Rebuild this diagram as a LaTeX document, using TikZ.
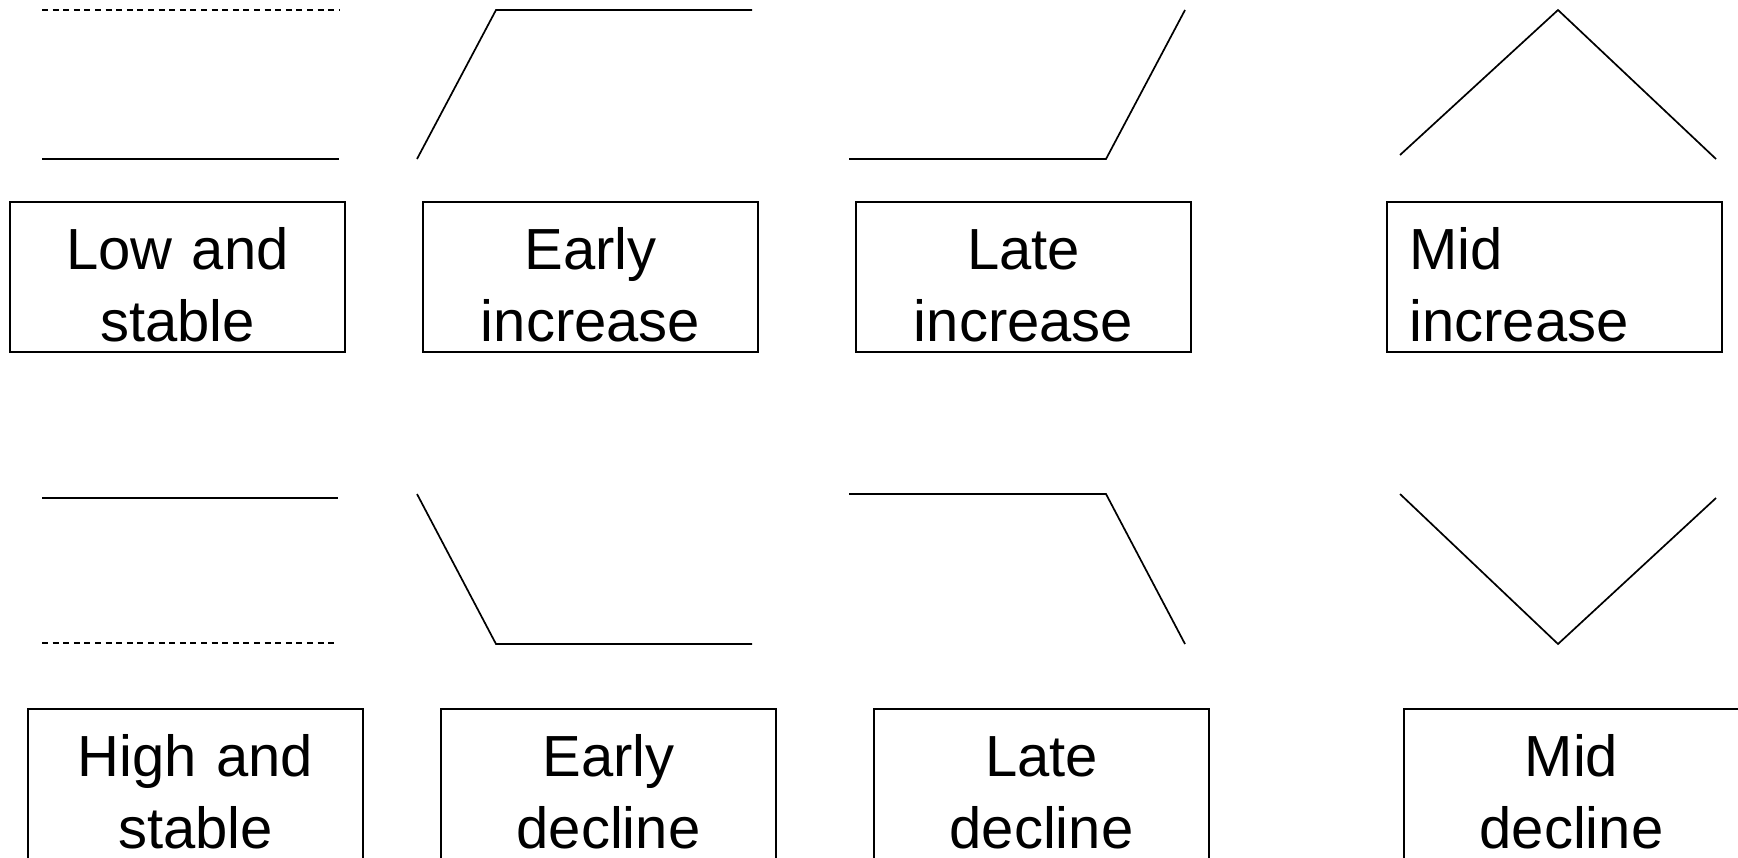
\documentclass[tikz,border=0pt]{standalone}
\usepackage{fontspec}
\setmainfont{Liberation Sans}
\tikzstyle{pattern} = [rectangle, draw, line width=1pt, text width=144.5pt, inner xsep=11.5pt, inner ysep=0pt, minimum height=75pt, align=center, font=\fontsize{29}{36}\selectfont, execute at begin node=\rule{0pt}{29pt}]
\tikzstyle{trend} = [line width=0.85pt, line join=miter]
\tikzstyle{flat} = [line width=0.6pt, dash pattern=on 3pt off 2.3pt]

\begin{document}
\begin{tikzpicture}[x=0.5pt, y=-0.5pt]
        \useasboundingbox (0,0) rectangle (1738,857);
        % upper row
        \node (low-stable) [pattern] at (177.5,277) {Low and\\stable};
        \node (early-increase) [pattern] at (590.5,277) {Early\\increase};
        \node (late-increase) [pattern] at (1023.5,277) {Late\\increase};
        \node (mid-increase) [pattern, align=left] at (1554,277) {Mid\\increase};
        \draw [flat] (42,10) -- (339,10);
        \draw [trend] (42,159) -- (339,159);
        \draw [trend] (417,159) -- (496,10) -- (752,10);
        \draw [trend] (849,159) -- (1106,159) -- (1185,10);
        \draw [trend] (1400,155) -- (1558,10) -- (1716,159);
        % lower row
        \node (high-stable) [pattern] at (195.5,784) {High and\\stable};
        \node (early-decline) [pattern] at (608.5,784) {Early\\decline};
        \node (late-decline) [pattern] at (1041.5,784) {Late\\decline};
        \node (mid-decline) [pattern] at (1571.5,784) {Mid\\decline};
        \draw [trend] (42,498) -- (338,498);
        \draw [flat] (42,643) -- (338,643);
        \draw [trend] (417,494) -- (496,644) -- (752,644);
        \draw [trend] (849,494) -- (1106,494) -- (1185,644);
        \draw [trend] (1400,494) -- (1558,644) -- (1716,498);
\end{tikzpicture}
\end{document}
